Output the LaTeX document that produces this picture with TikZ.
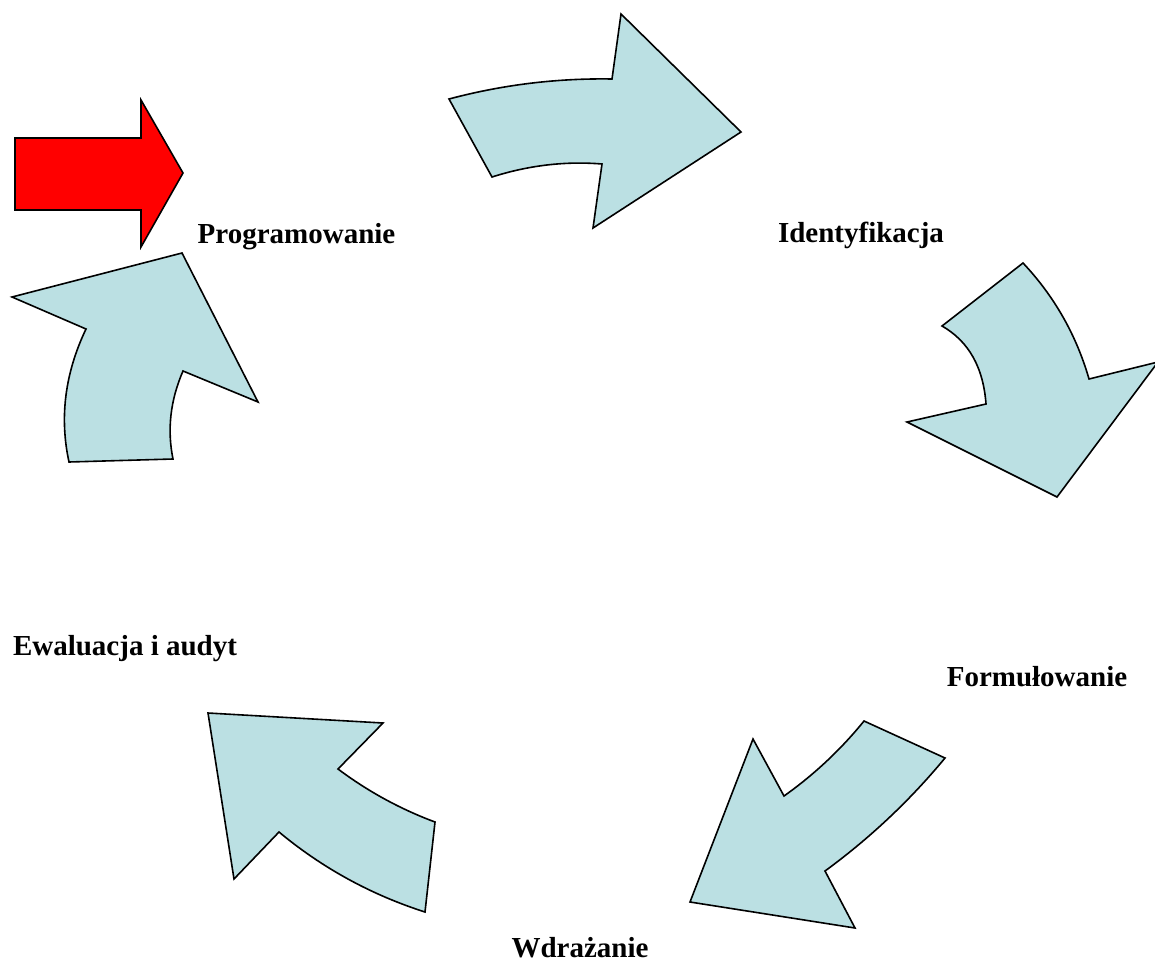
\documentclass[tikz,border=0pt]{standalone}
\usepackage{fontspec}
\setmainfont{Liberation Serif}
\definecolor{cyclefill}{HTML}{BBE0E3}
\tikzset{
  cyclearrow/.style={draw=black, line width=0.8pt, fill=cyclefill, line join=miter},
  startarrow/.style={draw=black, line width=0.8pt, fill=red, line join=miter},
  stage/.style={anchor=base, inner sep=0pt, font=\fontsize{14.5}{17}\selectfont\bfseries}
}
\begin{document}
\begin{tikzpicture}[x=0.5pt, y=-0.5pt]
\useasboundingbox (0,0) rectangle (1155,963);

% entry arrow
\draw[startarrow] (15,138) -- (141,138) -- (141,100) -- (183,173) -- (141,247) -- (141,210) -- (15,210) -- cycle;

% cycle arrows
\draw[cyclearrow] (449,99) .. controls (502.7,84.7) and (557,78.1) .. (612,79) -- (621,14) -- (741,132)
  -- (593,228) -- (602,164) .. controls (565.3,161) and (528.7,165.3) .. (492,177) -- cycle;

\draw[cyclearrow] (1023,263) .. controls (1054.3,296.3) and (1076.3,335) .. (1089,379) -- (1158,362) -- (1057,497)
  -- (907,422) -- (986,404) .. controls (983.3,367.3) and (968.7,341.3) .. (942,326) -- cycle;

\draw[cyclearrow] (864,721) -- (945,758) .. controls (909.7,800.7) and (869.7,838.3) .. (825,871) -- (855,928)
  -- (690,902) -- (753,739) -- (784,796) .. controls (814,774.7) and (840.7,749.7) .. (864,721) -- cycle;

\draw[cyclearrow] (435,822) -- (425,912) .. controls (371,894.7) and (322.3,868) .. (279,832) -- (234,879)
  -- (208,713) -- (383,723) -- (338,769) .. controls (367.8,791.3) and (400.1,809) .. (435,822) -- cycle;

\draw[cyclearrow] (173,459) -- (69,462) .. controls (59.3,417.3) and (65,373) .. (86,329) -- (12,297)
  -- (182,253) -- (258,402) -- (183,371) .. controls (170.3,400.3) and (167,429.7) .. (173,459) -- cycle;

% stage labels
\node[stage] (prog) at (296.5,243) {Programowanie};
\node[stage] (ident) at (861,242) {Identyfikacja};
\node[stage] (form) at (1037,686) {Formułowanie};
\node[stage] (wdr) at (580,957) {Wdrażanie};
\node[stage] (ewal) at (125,655) {Ewaluacja i audyt};
\end{tikzpicture}
\end{document}
